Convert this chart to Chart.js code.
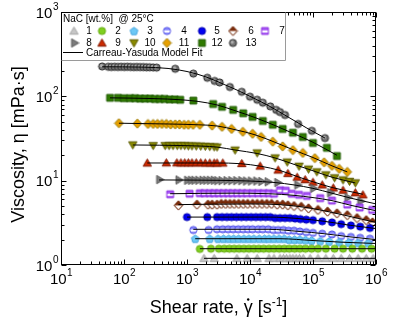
<!DOCTYPE html>
<html>
<head>
<meta charset="utf-8">
<script src="https://cdn.jsdelivr.net/npm/chart.js@4.4.0/dist/chart.umd.min.js"></script>
<style>
html, body { margin: 0; padding: 0; background: #fff; }
canvas { display: block; }
</style>
</head>
<body>
<canvas id="visc" width="400" height="322"></canvas>
<script>
// NaC concentration labels (wt.%)
const labels = ['1', '2', '3', '4', '5', '6', '7', '8', '9', '10', '11', '12', '13'];

// shear rate [1/s] and viscosity [mPa s], one pair per concentration
const rate1 = [1860, 2700, 6200, 9000, 13000, 20000, 24000, 30000, 34000, 38000, 43000, 48000, 54000, 61000, 70000, 90000, 120000, 160000, 210000, 280000, 380000, 520000, 700000, 900000];
const visc1 = [1.2, 1.2, 1.2, 1.2, 1.2, 1.2, 1.2, 1.2, 1.2, 1.2, 1.2, 1.2, 1.2, 1.2, 1.2, 1.2, 1.2, 1.2, 1.2, 1.2, 1.2, 1.2, 1.2, 1.2];
const rate2 = [1600, 2400, 3200, 3900, 4700, 5600, 6700, 8000, 9600, 11500, 13800, 16500, 20000, 24000, 29000, 35000, 42000, 51000, 62000, 76000, 95000, 120000, 160000, 220000, 300000, 420000, 600000, 850000];
const visc2 = [1.55, 1.56, 1.56, 1.56, 1.56, 1.56, 1.56, 1.56, 1.56, 1.56, 1.56, 1.56, 1.56, 1.56, 1.56, 1.56, 1.56, 1.56, 1.56, 1.56, 1.56, 1.56, 1.56, 1.56, 1.56, 1.56, 1.56, 1.56];
const rate3 = [1350, 2300, 3100, 3800, 4600, 5500, 6600, 8000, 9600, 11500, 14000, 17000, 20000, 24000, 29000, 35000, 42000, 51000, 62000, 76000, 95000, 130000, 180000, 260000, 370000, 520000, 750000];
const visc3 = [2.05, 2.05, 2.05, 2.05, 2.05, 2.05, 2.05, 2.05, 2.05, 2.05, 2.05, 2.05, 2.05, 2.05, 2.05, 2.05, 2.0, 2.0, 2.0, 1.98, 1.95, 1.92, 1.9, 1.87, 1.85, 1.83, 1.82];
const rate4 = [1260, 2200, 3000, 3700, 4500, 5400, 6500, 7800, 9300, 11000, 13500, 16000, 19500, 23500, 28000, 34000, 41000, 50000, 62000, 78000, 100000, 140000, 200000, 280000, 400000, 560000, 800000];
const visc4 = [2.6, 2.6, 2.65, 2.65, 2.65, 2.65, 2.65, 2.65, 2.65, 2.65, 2.65, 2.65, 2.65, 2.6, 2.6, 2.6, 2.55, 2.55, 2.5, 2.45, 2.4, 2.35, 2.3, 2.2, 2.15, 2.1, 2.05];
const rate5 = [1000, 2100, 3000, 3600, 4300, 5100, 6100, 7300, 8700, 10400, 12400, 14800, 17700, 21000, 25000, 30000, 36000, 43000, 52000, 63000, 78000, 100000, 140000, 200000, 280000, 400000, 560000, 800000];
const visc5 = [3.7, 3.7, 3.7, 3.7, 3.7, 3.7, 3.7, 3.7, 3.7, 3.7, 3.7, 3.7, 3.7, 3.7, 3.6, 3.6, 3.6, 3.6, 3.55, 3.5, 3.45, 3.4, 3.3, 3.2, 3.05, 2.95, 2.85, 2.75];
const rate6 = [730, 1440, 2150, 2500, 3000, 3500, 4100, 4800, 5600, 6600, 7800, 9200, 11000, 13000, 15500, 18500, 22000, 27000, 33000, 40000, 50000, 65000, 85000, 120000, 170000, 240000, 350000, 500000, 700000, 880000];
const visc6 = [5.1, 5.2, 5.2, 5.2, 5.2, 5.3, 5.3, 5.3, 5.3, 5.3, 5.3, 5.3, 5.3, 5.3, 5.3, 5.3, 5.3, 5.2, 5.2, 5.1, 5.0, 4.9, 4.7, 4.5, 4.3, 4.1, 3.9, 3.6, 3.4, 3.2];
const rate7 = [540, 1100, 1600, 1900, 2300, 2700, 3200, 3800, 4500, 5300, 6300, 7500, 9000, 11000, 13500, 16500, 20000, 24000, 30000, 37000, 46000, 60000, 80000, 130000, 200000, 350000, 550000, 870000];
const visc7 = [6.9, 7.0, 7.1, 7.1, 7.1, 7.1, 7.1, 7.1, 7.1, 7.1, 7.1, 7.1, 7.1, 7.1, 7.1, 7.1, 7.1, 7.0, 7.7, 7.6, 7.0, 6.8, 6.6, 6.2, 5.8, 5.2, 4.8, 4.5];
const rate8 = [360, 730, 1000, 1150, 1300, 1500, 1750, 2000, 2300, 2650, 3000, 3500, 4200, 5000, 6000, 7200, 8600, 10300, 12500, 15000, 19000, 27000, 56000, 100000, 186000, 350000, 560000];
const visc8 = [10.3, 10.2, 10.1, 10.1, 10.1, 10.1, 10.1, 10.1, 10.1, 10.1, 10, 10, 10, 10, 10, 10, 9.9, 9.9, 9.9, 9.8, 9.7, 9.5, 8.9, 8.1, 7.2, 6.3, 5.7];
const rate9 = [234, 470, 690, 800, 920, 1050, 1200, 1400, 1650, 1950, 2300, 2700, 3000, 3700, 7400, 14500, 28000, 40000, 56000, 75000, 100000, 140000, 210000, 300000, 470000, 620000];
const visc9 = [16.2, 16.3, 16.3, 16.3, 16.3, 16.3, 16.3, 16.3, 16.3, 16.2, 16.2, 16.2, 16.2, 16.2, 16, 14.9, 13.4, 12.2, 11, 10.3, 9.6, 8.9, 8.2, 7.7, 7.2, 6.8];
const rate10 = [138, 290, 450, 520, 600, 700, 800, 920, 1050, 1200, 1400, 1650, 1950, 2300, 2700, 3000, 5800, 13000, 25000, 39000, 60000, 85000, 115000, 160000, 220000, 300000, 380000, 470000];
const visc10 = [26.5, 26, 26, 26, 26, 26, 26, 26, 25.8, 25.8, 25.7, 25.6, 25.5, 25.3, 25.1, 25, 23, 21.3, 18.6, 16.6, 14.8, 13.7, 12.7, 11.7, 10.8, 10.2, 9.8, 9.4];
const rate11 = [83, 163, 240, 290, 340, 400, 470, 550, 650, 760, 900, 1050, 1250, 1600, 2500, 3600, 5100, 7700, 11000, 15000, 23000, 33000, 48000, 69000, 107000, 150000, 200000, 260000, 350000];
const visc11 = [48, 47.5, 47, 47, 47, 47, 47, 46.5, 46.5, 46.5, 46, 46, 46, 46, 45, 43.5, 41, 38, 36, 33, 29, 25.5, 23, 21.3, 18.5, 16.5, 15, 13.8, 12.7];
const rate12 = [60, 80, 100, 125, 150, 180, 215, 260, 310, 370, 440, 530, 640, 780, 1260, 2600, 3600, 5400, 7800, 11000, 16000, 23000, 33000, 48000, 69000, 100000, 166000, 240000];
const visc12 = [96, 96, 95, 95, 95, 94, 94, 94, 93, 93, 93, 92, 92, 91, 89, 81, 75, 69, 63, 57, 51, 46, 41, 37, 33, 28, 24.5, 19.6];
const rate13 = [45, 56, 63, 71, 80, 90, 101, 113, 127, 143, 160, 180, 203, 228, 256, 290, 330, 650, 1260, 2100, 2750, 3300, 4800, 7400, 10000, 13000, 16000, 21000, 26000, 30000, 36000, 58000, 96000, 155000];
const visc13 = [226, 224, 223, 224, 223, 224, 223, 224, 223, 222, 223, 222, 222, 221, 221, 220, 219, 212, 186, 166, 152, 146, 129, 113, 99, 91, 84, 76, 69, 65, 60, 47, 39, 32];

// Carreau-Yasuda fit curves, [shear rate, viscosity]
const fit1 = [[1860, 1.2], [1000000, 1.2]];
const fit2 = [[1600, 1.56], [1000000, 1.56]];
const fit3 = [[1350, 2.05], [30000, 2.05], [100000, 1.95], [300000, 1.86], [1000000, 1.8]];
const fit4 = [[1260, 2.65], [20000, 2.65], [60000, 2.5], [150000, 2.35], [400000, 2.15], [1000000, 2.0]];
const fit5 = [[1000, 3.7], [20000, 3.7], [60000, 3.55], [150000, 3.3], [400000, 2.95], [1000000, 2.7]];
const fit6 = [[730, 5.2], [10000, 5.3], [30000, 5.2], [80000, 4.8], [200000, 4.2], [500000, 3.6], [1000000, 3.2]];
const fit7 = [[540, 7.0], [5000, 7.1], [20000, 7.0], [50000, 6.7], [100000, 6.3], [200000, 5.8], [400000, 5.1], [1000000, 4.4]];
const fit8 = [[360, 10.2], [3000, 10.1], [10000, 9.9], [25000, 9.5], [50000, 8.9], [100000, 8.1], [200000, 7.1], [400000, 6.2], [1000000, 5.3]];
const fit9 = [[234, 16.2], [3000, 16.2], [7000, 15.9], [15000, 14.8], [30000, 13.2], [60000, 11], [100000, 9.7], [200000, 8.3], [400000, 7.4], [620000, 6.9]];
const fit10 = [[138, 26.5], [1000, 26], [3000, 25], [6000, 23], [13000, 21], [25000, 18.6], [50000, 15.6], [100000, 13.1], [200000, 11], [470000, 9.4]];
const fit11 = [[83, 48], [500, 47], [1500, 46], [3000, 44.5], [6000, 40], [12000, 35], [25000, 28.5], [50000, 23], [100000, 18.8], [200000, 15], [350000, 12.7]];
const fit12 = [[60, 96], [300, 94], [800, 91], [1500, 87], [3000, 79], [6000, 67], [12000, 56], [25000, 45], [50000, 36], [100000, 28.5], [240000, 20]];
const fit13 = [[45, 224], [200, 222], [500, 214], [1000, 197], [2000, 170], [4000, 137], [7000, 114], [10000, 100], [20000, 77], [40000, 57], [80000, 42], [155000, 32]];

const rates = [rate1, rate2, rate3, rate4, rate5, rate6, rate7, rate8, rate9, rate10, rate11, rate12, rate13];
const viscs = [visc1, visc2, visc3, visc4, visc5, visc6, visc7, visc8, visc9, visc10, visc11, visc12, visc13];
const fits = [fit1, fit2, fit3, fit4, fit5, fit6, fit7, fit8, fit9, fit10, fit11, fit12, fit13];

const shapes = ['up', 'circle', 'pentagon', 'circle', 'circle', 'diamond', 'square', 'right', 'up', 'down', 'diamond', 'square', 'circle'];
const fills = ['#c6c6c6', '#7fcf1f', '#6cc8f6', '#8a8aff', '#0000f0', '#7a2a08', '#a855f7', '#7c7c7c', '#cc2a00', '#8a8a00', '#e8a000', '#2f7a00', '#747474'];
const edges = ['#a6a6a6', '#66aa12', '#4aa8e0', '#5050e6', '#0000b0', '#6a2000', '#8a2be2', '#5c5c5c', '#801800', '#5a5a00', '#9a7a00', '#1f5a00', '#2e2e2e'];
const styles = ['', '', '', 'band', '', 'half', 'band', '', '', '', '', '', 'shade'];

const FONT = '"Liberation Sans", Arial, sans-serif';

function shapePath(g, shape, m) {
  g.beginPath();
  if (shape === 'circle') {
    g.arc(m, m, 3.6, 0, Math.PI * 2);
  } else if (shape === 'square') {
    g.rect(m - 3.4, m - 3.4, 6.8, 6.8);
  } else if (shape === 'diamond') {
    g.moveTo(m, m - 4.6); g.lineTo(m + 4.3, m); g.lineTo(m, m + 4.6); g.lineTo(m - 4.3, m);
  } else if (shape === 'pentagon') {
    for (let k = 0; k < 5; k++) {
      const a = -Math.PI / 2 + k * 2 * Math.PI / 5;
      g.lineTo(m + 4.1 * Math.cos(a), m + 0.4 + 4.1 * Math.sin(a));
    }
  } else {
    const r = 4.8;
    const rot = { up: 0, right: Math.PI / 2, down: Math.PI }[shape];
    for (let k = 0; k < 3; k++) {
      const a = -Math.PI / 2 + rot + k * 2 * Math.PI / 3;
      g.lineTo(m + r * Math.cos(a), m + 0.8 * Math.cos(rot) + r * Math.sin(a));
    }
  }
  g.closePath();
}

function makeMarker(i) {
  const c = document.createElement('canvas');
  c.width = 11; c.height = 11;
  const g = c.getContext('2d');
  const m = 5.5;
  shapePath(g, shapes[i], m);
  g.fillStyle = fills[i];
  g.fill();
  g.save();
  g.clip();
  if (styles[i] === 'band') {
    g.fillStyle = '#fff';
    g.fillRect(0, m - 0.6, 11, 2.2);
  } else if (styles[i] === 'half') {
    g.fillStyle = '#fff';
    g.fillRect(0, m, 11, 6);
  } else if (styles[i] === 'shade') {
    g.fillStyle = '#b0b0b0';
    g.beginPath();
    g.arc(m - 0.8, m - 0.8, 1.6, 0, Math.PI * 2);
    g.fill();
  }
  g.restore();
  shapePath(g, shapes[i], m);
  g.lineWidth = 1;
  g.strokeStyle = edges[i];
  g.stroke();
  return c;
}

const markers = labels.map((_, i) => makeMarker(i));

const datasets = [];
labels.forEach((lab, i) => {
  datasets.push({
    label: lab,
    data: rates[i].map((r, j) => ({ x: r, y: viscs[i][j] })),
    pointStyle: markers[i],
    pointRadius: 4,
    order: 1
  });
  datasets.push({
    label: 'fit ' + lab,
    data: fits[i].map(p => ({ x: p[0], y: p[1] })),
    showLine: true,
    borderColor: '#000',
    borderWidth: 1,
    pointRadius: 0,
    cubicInterpolationMode: 'monotone',
    order: 0
  });
});

function drawPow(ctx, exp, x, y, align) {
  ctx.font = '15px ' + FONT;
  const wb = ctx.measureText('10').width;
  ctx.font = '10px ' + FONT;
  const we = ctx.measureText(exp).width;
  const left = align === 'right' ? x - wb - we : x - (wb + we) / 2;
  ctx.textAlign = 'left';
  ctx.textBaseline = 'middle';
  ctx.font = '15px ' + FONT;
  ctx.fillText('10', left, y + 1.5);
  ctx.font = '10px ' + FONT;
  ctx.fillText(exp, left + wb + 0.5, y - 5);
}

const axesPlugin = {
  id: 'axesPlugin',
  afterDatasetsDraw(chart) {
    const { ctx, chartArea: a, scales: { x, y } } = chart;
    const L = Math.round(a.left) + 0.5, R = Math.round(a.right) - 0.5;
    const T = Math.round(a.top) + 0.5, B = Math.round(a.bottom) - 0.5;
    ctx.save();
    ctx.strokeStyle = '#000';
    ctx.lineWidth = 1;
    ctx.beginPath();
    for (let d = 1; d <= 6; d++) {
      for (let k = 1; k <= 9; k++) {
        const v = k * Math.pow(10, d);
        if (v > 1e6) break;
        const px = Math.round(x.getPixelForValue(v)) + 0.5;
        const len = k === 1 ? 5 : 3;
        ctx.moveTo(px, B); ctx.lineTo(px, B - len);
        ctx.moveTo(px, T); ctx.lineTo(px, T + len);
      }
    }
    for (let d = 0; d <= 3; d++) {
      for (let k = 1; k <= 9; k++) {
        const v = k * Math.pow(10, d);
        if (v > 1000) break;
        const py = Math.round(y.getPixelForValue(v)) + 0.5;
        const len = k === 1 ? 5 : 3;
        ctx.moveTo(L, py); ctx.lineTo(L + len, py);
        ctx.moveTo(R, py); ctx.lineTo(R - len, py);
      }
    }
    ctx.stroke();
    ctx.strokeRect(L, T, R - L, B - T);

    ctx.fillStyle = '#000';
    for (let d = 1; d <= 6; d++) {
      drawPow(ctx, String(d), x.getPixelForValue(Math.pow(10, d)), a.bottom + 13, 'center');
    }
    for (let d = 0; d <= 3; d++) {
      drawPow(ctx, String(d), a.left - 3, y.getPixelForValue(Math.pow(10, d)), 'right');
    }

    // axis titles
    ctx.font = '18px ' + FONT;
    ctx.textBaseline = 'alphabetic';
    ctx.textAlign = 'left';
    const p1 = 'Shear rate, ', p2 = 'γ', p3 = ' [s', p5 = ']', sup = '-1';
    const w1 = ctx.measureText(p1).width, w2 = ctx.measureText(p2).width, w3 = ctx.measureText(p3).width;
    const w5 = ctx.measureText(p5).width;
    ctx.font = '12px ' + FONT;
    const ws = ctx.measureText(sup).width;
    const total = w1 + w2 + w3 + ws + w5;
    let tx = (a.left + a.right) / 2 - total / 2;
    const ty = 313;
    ctx.font = '18px ' + FONT;
    ctx.fillText(p1, tx, ty); tx += w1;
    ctx.fillText(p2, tx, ty);
    ctx.beginPath();
    ctx.arc(tx + w2 / 2, ty - 13.5, 1.2, 0, Math.PI * 2);
    ctx.fill();
    tx += w2;
    ctx.fillText(p3, tx, ty); tx += w3;
    ctx.font = '12px ' + FONT;
    ctx.fillText(sup, tx, ty - 7); tx += ws;
    ctx.font = '18px ' + FONT;
    ctx.fillText(p5, tx, ty);

    ctx.save();
    ctx.translate(19, (a.top + a.bottom) / 2 + 6);
    ctx.rotate(-Math.PI / 2);
    ctx.textAlign = 'center';
    ctx.textBaseline = 'middle';
    ctx.fillText('Viscosity, η [mPa·s]', 0, 0);
    ctx.restore();
    ctx.restore();
  },
  afterDraw(chart) {
    const { ctx, chartArea: a } = chart;
    const L = Math.round(a.left) + 0.5, T = Math.round(a.top) + 0.5;
    ctx.save();
    ctx.fillStyle = '#fff';
    ctx.fillRect(L + 0.5, T + 0.5, 223, 47);
    ctx.strokeStyle = '#9a9a9a';
    ctx.lineWidth = 1;
    ctx.beginPath();
    ctx.moveTo(L + 224, T); ctx.lineTo(L + 224, T + 48); ctx.lineTo(L, T + 48);
    ctx.stroke();

    ctx.fillStyle = '#000';
    ctx.font = '10px ' + FONT;
    ctx.textBaseline = 'middle';
    ctx.textAlign = 'left';
    ctx.fillText('NaC [wt.%]  @ 25°C', 63, 19.5);

    const markX = [74, 102, 134, 167, 202, 233, 265];
    const textX = [89, 118, 150, 184, 217, 251, 282];
    ctx.textAlign = 'center';
    labels.forEach((lab, i) => {
      const col = i < 7 ? i : i - 7;
      const row = i < 7 ? 31 : 43;
      ctx.drawImage(markers[i], markX[col] - 5.5, row - 5.5);
      ctx.fillText(lab, textX[col], row + 0.5);
    });

    ctx.strokeStyle = '#000';
    ctx.beginPath();
    ctx.moveTo(63, 52.5); ctx.lineTo(83, 52.5);
    ctx.stroke();
    ctx.textAlign = 'left';
    ctx.fillText('Carreau-Yasuda Model Fit', 86, 53);
    ctx.restore();
  }
};

new Chart(document.getElementById('visc'), {
  type: 'scatter',
  data: { datasets: datasets },
  options: {
    responsive: false,
    animation: false,
    devicePixelRatio: 1,
    layout: { padding: { left: 61, right: 24, top: 12, bottom: 57 } },
    scales: {
      x: {
        type: 'logarithmic',
        min: 10,
        max: 1000000,
        ticks: { display: false },
        grid: { display: false, drawTicks: false },
        border: { display: false }
      },
      y: {
        type: 'logarithmic',
        min: 1,
        max: 1000,
        ticks: { display: false },
        grid: { display: false, drawTicks: false },
        border: { display: false }
      }
    },
    plugins: {
      legend: { display: false },
      tooltip: { enabled: false }
    }
  },
  plugins: [axesPlugin]
});
</script>
</body>
</html>
